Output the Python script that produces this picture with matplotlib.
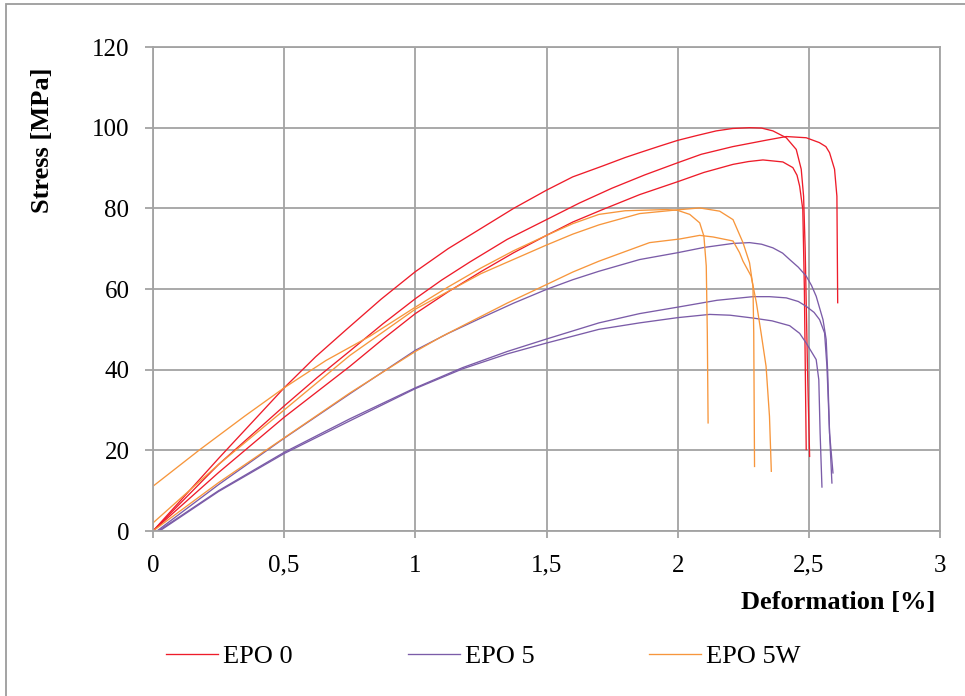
import matplotlib
matplotlib.use("Agg")
from matplotlib import pyplot as plt
from matplotlib.patches import Rectangle

# EPO 0 (three specimens)
epo0_1_x = [0, 0.25, 0.5, 0.62, 0.738, 0.87, 1.0, 1.125, 1.25, 1.375, 1.5, 1.6, 1.714, 1.8, 1.855,
            1.93, 2.0, 2.07, 2.147, 2.21, 2.274, 2.32, 2.363, 2.414, 2.452, 2.471, 2.48, 2.486,
            2.495, 2.503]
epo0_1_y = [0, 18, 35.5, 43.2, 50, 57.5, 64.3, 70, 75, 80, 84.5, 87.8, 90.5, 92.6, 93.8,
            95.4, 96.85, 98.0, 99.2, 99.8, 100, 99.9, 99.2, 97.5, 94.6, 89.7, 83, 70,
            40, 18.5]
epo0_2_x = [0, 0.25, 0.5, 0.625, 0.75, 0.875, 1.0, 1.1, 1.208, 1.35, 1.5, 1.625, 1.75, 1.875,
            2.0, 2.09, 2.21, 2.338, 2.414, 2.49, 2.54, 2.565, 2.579, 2.598, 2.607, 2.61]
epo0_2_y = [0, 16.5, 31, 38, 44.6, 51.3, 57.6, 62.2, 66.7, 72.3, 77.2, 81.3, 85, 88.3,
            91.3, 93.4, 95.3, 96.9, 97.8, 97.5, 96.3, 95.3, 93.8, 89.7, 83, 56.6]
epo0_3_x = [0, 0.25, 0.5, 0.75, 0.875, 1.0, 1.125, 1.25, 1.375, 1.5, 1.6, 1.714, 1.855, 2.0,
            2.1, 2.211, 2.27, 2.325, 2.401, 2.439, 2.455, 2.465, 2.477, 2.483, 2.49]
epo0_3_y = [0, 14.5, 28.2, 40.8, 47.5, 53.9, 59.3, 64.3, 69, 73.3, 76.6, 79.7, 83.4, 86.6,
            88.9, 90.9, 91.6, 92.0, 91.5, 90.1, 88.2, 85.5, 79.7, 60, 20.2]

# EPO 5
epo5_1_x = [0.015, 0.25, 0.5, 0.75, 1.0, 1.125, 1.25, 1.375, 1.5, 1.6, 1.70, 1.855, 2.0, 2.1,
            2.211, 2.274, 2.32, 2.363, 2.4, 2.427, 2.46, 2.49, 2.51, 2.528, 2.554, 2.566,
            2.572, 2.579, 2.592]
epo5_1_y = [0, 11.5, 23, 34, 44.8, 49, 52.8, 56.5, 59.9, 62.3, 64.4, 67.3, 69, 70.3,
            71.3, 71.5, 71.1, 70.2, 68.9, 67.3, 65.4, 63.2, 60.9, 58.2, 52.4, 47.5,
            39.2, 24.3, 14.4]
epo5_2_x = [0.02, 0.25, 0.5, 0.75, 1.0, 1.18, 1.35, 1.5, 1.70, 1.855, 2.0, 2.15, 2.287, 2.35,
            2.414, 2.46, 2.49, 2.52, 2.541, 2.56, 2.569, 2.579, 2.588]
epo5_2_y = [0, 10, 19.5, 27.8, 35.5, 40.5, 44.5, 47.6, 51.6, 53.9, 55.5, 57.2, 58.1, 58.1,
            57.8, 56.9, 55.7, 54.2, 52.4, 49.1, 40.8, 24.3, 11.9]
epo5_3_x = [0.025, 0.25, 0.5, 0.75, 1.0, 1.18, 1.35, 1.5, 1.70, 1.855, 2.0, 2.122, 2.2, 2.287,
            2.36, 2.427, 2.465, 2.49, 2.528, 2.538, 2.543, 2.55]
epo5_3_y = [0, 9.8, 19.2, 27.3, 35.3, 40.2, 43.9, 46.6, 50, 51.6, 52.9, 53.7, 53.5, 52.8,
            52.1, 50.9, 49, 46.6, 42.5, 37.5, 24.3, 10.9]

# EPO 5W
epo5w_1_x = [0, 0.179, 0.35, 0.5, 0.66, 0.827, 1.0, 1.125, 1.25, 1.375, 1.5, 1.6, 1.70, 1.8,
             1.957, 2.0, 2.046, 2.084, 2.10, 2.109, 2.113, 2.116]
epo5w_1_y = [11.1, 20.2, 28.5, 35.5, 42.3, 48.3, 55.5, 60.5, 65.2, 69.5, 73.3, 76.2, 78.5, 79.4,
             79.7, 79.5, 78.5, 76.4, 73.1, 65.7, 49.1, 26.8]
epo5w_2_x = [0, 0.25, 0.5, 0.75, 1.0, 1.25, 1.5, 1.60, 1.70, 1.855, 1.995, 2.084, 2.16, 2.211,
             2.249, 2.274, 2.287, 2.29, 2.293]
epo5w_2_y = [2.0, 16.5, 30, 43.5, 55, 63.8, 70.9, 73.6, 75.9, 78.7, 79.6, 80.1, 79.3, 77.2,
             71.5, 66.5, 60.7, 49.1, 16]
epo5w_3_x = [0, 0.25, 0.5, 0.75, 1.0, 1.1, 1.208, 1.35, 1.5, 1.6, 1.70, 1.855, 1.893, 2.008,
             2.084, 2.135, 2.211, 2.236, 2.249, 2.28, 2.3, 2.318, 2.337, 2.35, 2.357]
epo5w_3_y = [0, 12, 23.1, 34.2, 44.5, 48.2, 51.8, 56.5, 61.1, 64.2, 66.9, 70.6, 71.5, 72.4,
             73.3, 72.9, 71.9, 69, 66.9, 63.2, 56.6, 49.1, 40.8, 28.4, 14.8]

x_ticks = [0, 0.5, 1, 1.5, 2, 2.5, 3]
x_tick_labels = ["0", "0,5", "1", "1,5", "2", "2,5", "3"]
y_ticks = [0, 20, 40, 60, 80, 100, 120]

RED = "#EE1C2A"
PURPLE = "#7B5CA8"
ORANGE = "#F7963C"
GRID = "#A3A3A3"

plt.rcParams["font.family"] = ["Liberation Serif", "DejaVu Serif"]

fig = plt.figure(figsize=(9.65, 6.96), dpi=100)
ax = fig.add_axes([153 / 965, 1 - 531 / 696, 787 / 965, 484 / 696])

series = [
    ("EPO 0", RED, [(epo0_1_x, epo0_1_y), (epo0_2_x, epo0_2_y), (epo0_3_x, epo0_3_y)]),
    ("EPO 5", PURPLE, [(epo5_1_x, epo5_1_y), (epo5_2_x, epo5_2_y), (epo5_3_x, epo5_3_y)]),
    ("EPO 5W", ORANGE, [(epo5w_1_x, epo5w_1_y), (epo5w_2_x, epo5w_2_y), (epo5w_3_x, epo5w_3_y)]),
]
for name, color, curves in series:
    for i, (xs, ys) in enumerate(curves):
        ax.plot(xs, ys, color=color, lw=0.95, label=name if i == 0 else None)

ax.set_xlim(0, 3)
ax.set_ylim(0, 120)
ax.set_xticks(x_ticks)
ax.set_xticklabels(x_tick_labels)
ax.set_yticks(y_ticks)
ax.grid(True, color=GRID, lw=1.3)
ax.set_axisbelow(True)
for s in ax.spines.values():
    s.set_color(GRID)
    s.set_linewidth(1.3)
ax.tick_params(axis="both", colors=GRID, labelcolor="black", labelsize=18, width=1.3)
ax.tick_params(axis="y", length=6, pad=11)
ax.tick_params(axis="x", length=5, pad=12)

fig.text(43 / 965, 1 - 140 / 696, "Stress [MPa]", rotation=90, ha="center", va="center",
         fontsize=19, fontweight="bold")
fig.text(935 / 965, 1 - 602 / 696, "Deformation [%]", ha="right", va="center",
         fontsize=19, fontweight="bold")

fig.legend(loc="center left", bbox_to_anchor=(166 / 965, 1 - 656 / 696), ncol=3,
           frameon=False, fontsize=19, handlelength=1.97, handletextpad=0.19,
           columnspacing=4.36, borderpad=0, borderaxespad=0)

fig.add_artist(Rectangle((6 / 965, -0.05), 1.1, 1.05 - 4 / 696, transform=fig.transFigure,
                         fill=False, edgecolor="#9C9C9C", lw=1.3))

fig.savefig("out.png", dpi=100)
